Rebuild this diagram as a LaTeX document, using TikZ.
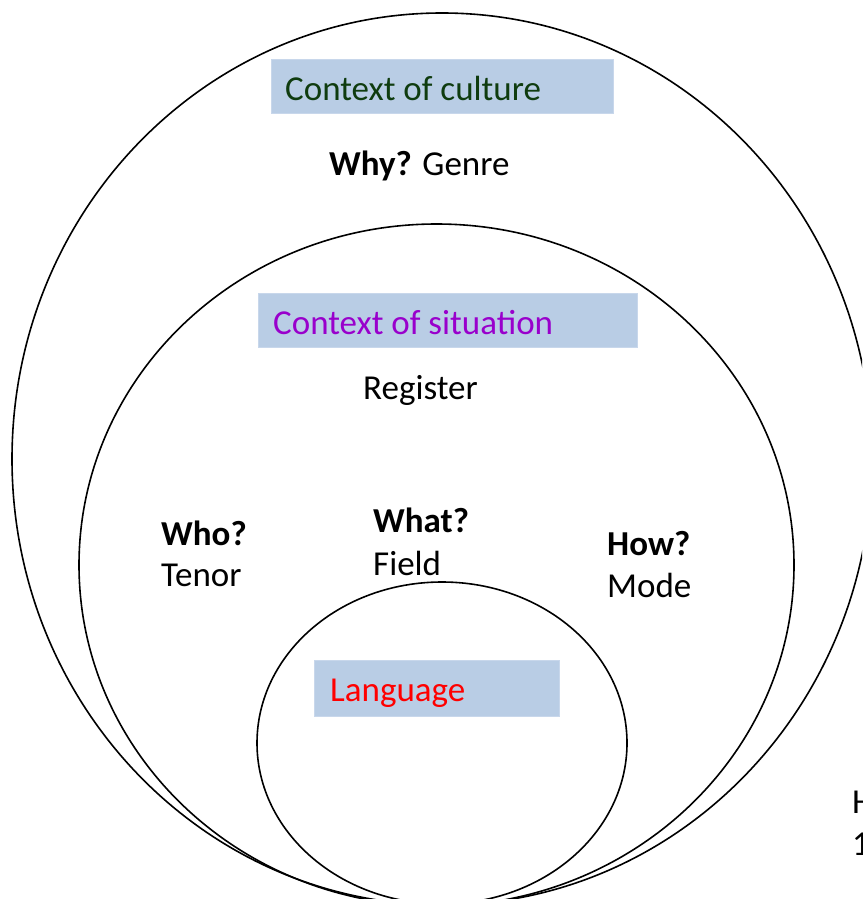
\documentclass[tikz,border=0pt]{standalone}
\usepackage{fontspec}
\setmainfont{Carlito}
\definecolor{boxblue}{RGB}{185,205,229}
\definecolor{boxedge}{RGB}{200,215,235}
\definecolor{culturegreen}{RGB}{15,60,15}
\definecolor{situpurple}{RGB}{153,0,204}
\definecolor{langred}{RGB}{255,0,0}
\begin{document}
\begin{tikzpicture}[x=1pt,y=-1pt,
  ring/.style={draw=black,line width=1.6pt},
  labelbox/.style={fill=boxblue,draw=boxedge,line width=0.8pt},
  txt/.style={inner sep=0pt,anchor=base west,font=\fontsize{35}{42}\selectfont}]
\useasboundingbox (0,0) rectangle (862,899);
\clip (0,0) rectangle (862,899);
\fill[white] (0,0) rectangle (862,899);
% rings
\draw[ring] (442,459) ellipse [x radius=430, y radius=446];
\draw[ring] (436.5,565) ellipse [x radius=357.5, y radius=341];
\draw[ring] (442,743) ellipse [x radius=185, y radius=161];
% label boxes
\filldraw[labelbox] (271,59) rectangle (613,113);
\filldraw[labelbox] (258,293) rectangle (637,347);
\filldraw[labelbox] (314,660) rectangle (559,716);
\node[txt,text=culturegreen] (culture) at (285,100) {Context of culture};
\node[txt,text=situpurple] (situation) at (273,334) {Context of situation};
\node[txt,text=langred] (language) at (330,701) {Language};
\node[txt] (genre) at (329,175) {\textbf{Why?} Genre};
\node[txt] (register) at (363,399) {Register};
\node[txt] (who) at (161,545) {\textbf{Who?}};
\node[txt] (tenor) at (161,586) {Tenor};
\node[txt] (what) at (373,532) {\textbf{What?}};
\node[txt] (field) at (373,575) {Field};
\node[txt] (how) at (607,555) {\textbf{How?}};
\node[txt] (mode) at (607,597) {Mode};
\node[txt] (hcut) at (852,813) {H};
\node[txt] (onecut) at (852,855) {1};
\end{tikzpicture}
\end{document}
